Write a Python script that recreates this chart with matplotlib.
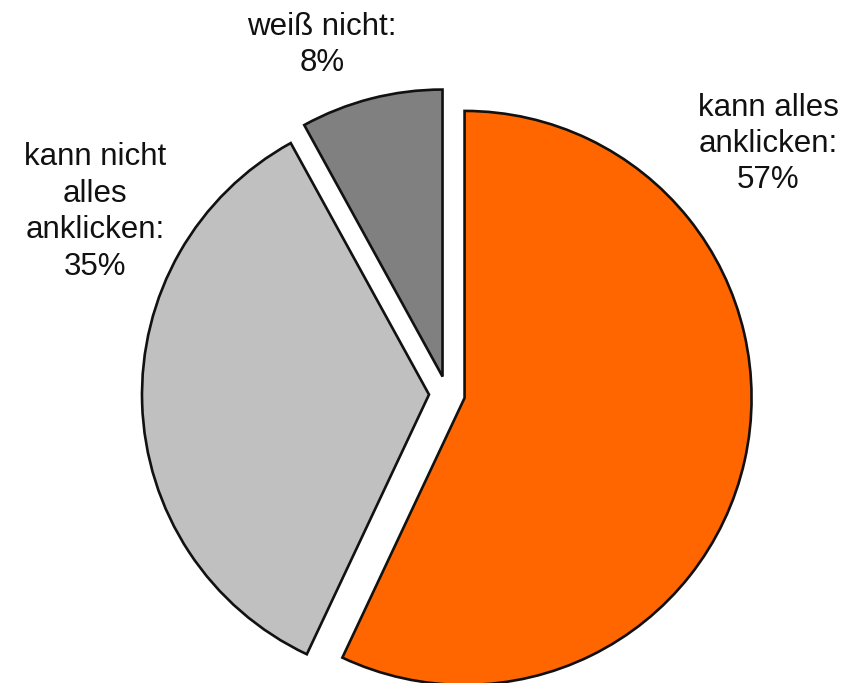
import matplotlib.pyplot as plt

# Daten
labels = ["kann alles\nanklicken:\n57%", "kann nicht\nalles\nanklicken:\n35%", "weiß nicht:\n8%"]
values = [57, 35, 8]
colors = ["#FF6600", "#C0C0C0", "#808080"]
label_pos = [(768, 144), (95, 212), (322, 45)]  # Pixel (x, y von oben)

W, H = 845, 683
fig = plt.figure(figsize=(W / 100, H / 100), dpi=100)
ax = fig.add_axes([0, 0, 1, 1])

# explode ist in Datenkoordinaten (Pixel), nicht relativ zum Radius
ax.pie(values, colors=colors, startangle=90, counterclock=False,
       explode=[18, 18, 18], radius=287, center=(447, H - 394),
       wedgeprops={'edgecolor': '#111111', 'linewidth': 1.9})

for txt, (x, y) in zip(labels, label_pos):
    ax.text(x, H - y, txt, ha='center', va='center', fontsize=22.5,
            family=['Liberation Sans', 'DejaVu Sans'], linespacing=1.28, color='#111111')

ax.set_xlim(0, W)
ax.set_ylim(0, H)
ax.set_aspect('equal')
ax.axis('off')

fig.savefig('out.png', dpi=100)
